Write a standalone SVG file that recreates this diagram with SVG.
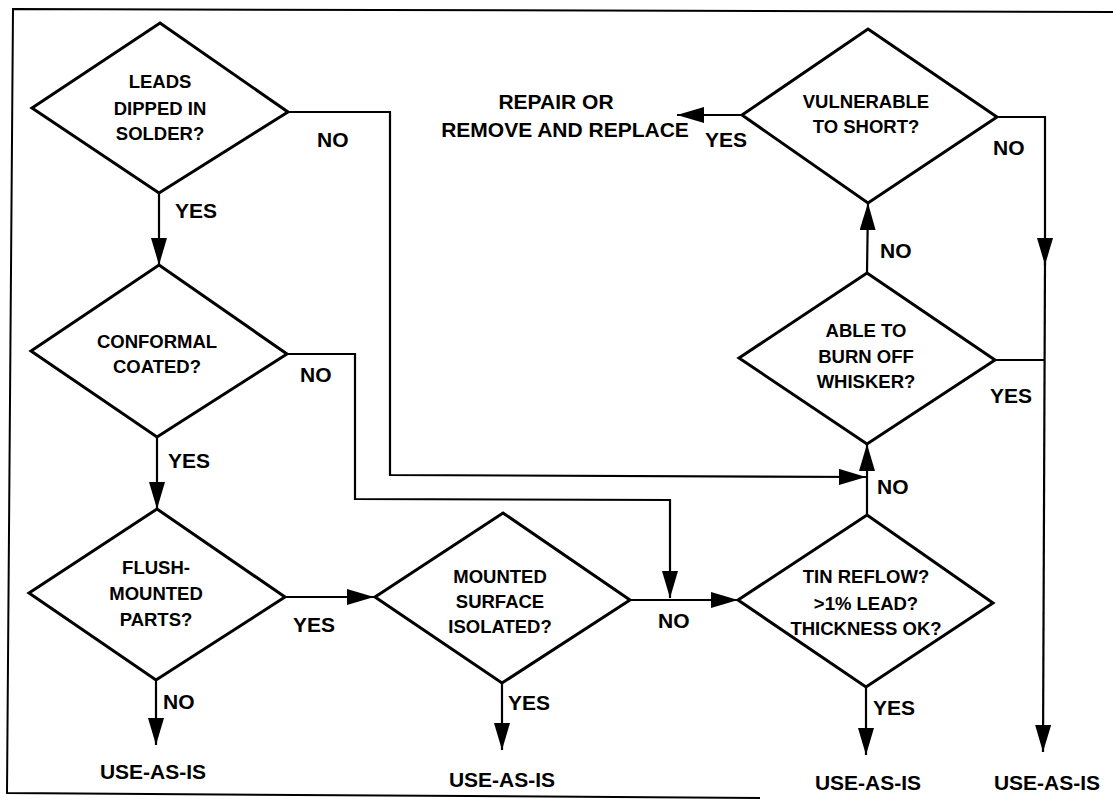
<svg xmlns="http://www.w3.org/2000/svg" width="1113" height="799" viewBox="0 0 1113 799">
<style>
.bg{fill:#fff}
.frame{fill:none;stroke:#000;stroke-width:2}
.dia{fill:#fff;stroke:#000;stroke-width:3;stroke-linejoin:miter}
.con{fill:none;stroke:#000;stroke-width:2.2}
text{font-family:"Liberation Sans",Arial,sans-serif;font-weight:bold;fill:#000}
.t{font-size:18.5px;text-anchor:middle}
.l{font-size:21px}
.u{font-size:21px;text-anchor:middle}
</style>
<defs>
<marker id="ah" markerUnits="userSpaceOnUse" markerWidth="28" markerHeight="18" refX="27" refY="8" orient="auto">
<path d="M0,0 L27,8 L0,16 Z" fill="#000"/>
</marker>
</defs>
<rect class="bg" width="1113" height="799"/>
<polyline class="frame" points="1113,12 13,9 7,793 760,798"/>

<g id="connectors">
<polyline class="con" points="288,112 390,112 390,475 866,477" marker-end="url(#ah)"/>
<polyline class="con" points="287,354 355,354 355,499 670,500 670,598" marker-end="url(#ah)"/>
<line class="con" x1="159" y1="193" x2="159" y2="265" marker-end="url(#ah)"/>
<line class="con" x1="157" y1="437" x2="157" y2="509" marker-end="url(#ah)"/>
<line class="con" x1="285" y1="597" x2="374" y2="597" marker-end="url(#ah)"/>
<line class="con" x1="156" y1="680" x2="156" y2="745" marker-end="url(#ah)"/>
<line class="con" x1="630" y1="600" x2="738" y2="600" marker-end="url(#ah)"/>
<line class="con" x1="502" y1="683" x2="502" y2="750" marker-end="url(#ah)"/>
<line class="con" x1="866" y1="687" x2="866" y2="755" marker-end="url(#ah)"/>
<line class="con" x1="867" y1="515" x2="867" y2="444" marker-end="url(#ah)"/>
<line class="con" x1="867" y1="273" x2="868" y2="203" marker-end="url(#ah)"/>
<line class="con" x1="995" y1="360" x2="1044" y2="360"/>
<polyline class="con" points="997,117 1045,117 1045,265" marker-end="url(#ah)"/>
<line class="con" x1="1045" y1="262" x2="1043" y2="752" marker-end="url(#ah)"/>
<line class="con" x1="742" y1="115" x2="677" y2="115" marker-end="url(#ah)"/>
</g>

<g id="leads">
<polygon class="dia" points="160,23 288,112 159,193 32,108"/>
<text class="t" x="160" y="88">LEADS</text>
<text class="t" x="160" y="115">DIPPED IN</text>
<text class="t" x="160" y="140">SOLDER?</text>
</g>
<g id="conformal">
<polygon class="dia" points="159,265 287,354 157,437 31,351"/>
<text class="t" x="157" y="348">CONFORMAL</text>
<text class="t" x="157" y="373">COATED?</text>
</g>
<g id="flush">
<polygon class="dia" points="157,509 285,597 156,680 29,593"/>
<text class="t" x="156" y="574">FLUSH-</text>
<text class="t" x="156" y="600">MOUNTED</text>
<text class="t" x="156" y="626">PARTS?</text>
</g>
<g id="mounted">
<polygon class="dia" points="503,513 630,600 502,683 375,597"/>
<text class="t" x="500" y="583">MOUNTED</text>
<text class="t" x="500" y="608">SURFACE</text>
<text class="t" x="500" y="633">ISOLATED?</text>
</g>
<g id="tin">
<polygon class="dia" points="867,515 993,603 866,687 738,600"/>
<text class="t" x="866" y="583">TIN REFLOW?</text>
<text class="t" x="866" y="610">&gt;1% LEAD?</text>
<text class="t" x="866" y="635">THICKNESS OK?</text>
</g>
<g id="able">
<polygon class="dia" points="867,273 995,360 867,444 739,358"/>
<text class="t" x="866" y="337">ABLE TO</text>
<text class="t" x="866" y="363">BURN OFF</text>
<text class="t" x="866" y="388">WHISKER?</text>
</g>
<g id="vulnerable">
<polygon class="dia" points="868,29 997,117 868,203 742,115"/>
<text class="t" x="866" y="108">VULNERABLE</text>
<text class="t" x="866" y="133">TO SHORT?</text>
</g>
<g id="repair">
<text class="u" x="556" y="109">REPAIR OR</text>
<text class="u" x="565" y="137">REMOVE AND REPLACE</text>
</g>
<g id="use1"><text class="u" x="153" y="779">USE-AS-IS</text></g>
<g id="use2"><text class="u" x="502" y="787">USE-AS-IS</text></g>
<g id="use3"><text class="u" x="868" y="790">USE-AS-IS</text></g>
<g id="use4"><text class="u" x="1047" y="790">USE-AS-IS</text></g>

<g id="labels">
<text class="l" x="317" y="147">NO</text>
<text class="l" x="175" y="218">YES</text>
<text class="l" x="300" y="382">NO</text>
<text class="l" x="168" y="468">YES</text>
<text class="l" x="293" y="632">YES</text>
<text class="l" x="163" y="709">NO</text>
<text class="l" x="658" y="628">NO</text>
<text class="l" x="508" y="710">YES</text>
<text class="l" x="873" y="715">YES</text>
<text class="l" x="877" y="494">NO</text>
<text class="l" x="990" y="403">YES</text>
<text class="l" x="880" y="258">NO</text>
<text class="l" x="993" y="155">NO</text>
<text class="l" x="705" y="147">YES</text>
</g>
</svg>
